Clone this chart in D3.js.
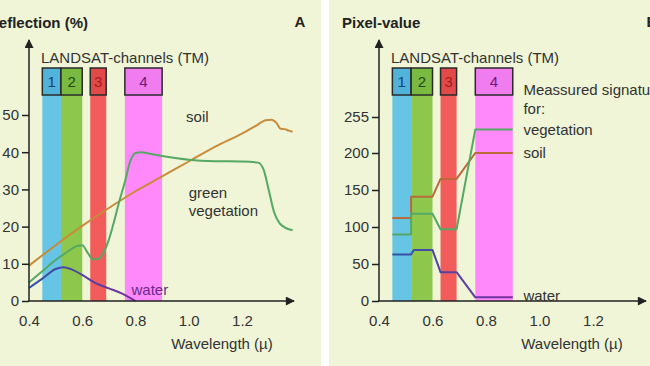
<!DOCTYPE html>
<html>
<head>
<meta charset="utf-8">
<script src="https://cdn.jsdelivr.net/npm/d3@7"></script>
<style>
  html, body { margin: 0; padding: 0; background: #ffffff; }
  svg { display: block; font-family: "Liberation Sans", Arial, sans-serif; }
</style>
</head>
<body>
<div id="chart"></div>
<script>
// Landsat TM channels (wavelength in micrometres)
const channelNames = ['1', '2', '3', '4'];
const channelStart = [0.45, 0.52, 0.63, 0.76];
const channelEnd = [0.52, 0.60, 0.69, 0.90];

// Axis ticks
const wavelengthTicks = [0.4, 0.6, 0.8, 1.0, 1.2];
const reflectionTicks = [0, 10, 20, 30, 40, 50];
const pixelTicks = [0, 50, 100, 150, 200, 255];

// Panel A: spectral reflection curves (%)
const soilWavelength = [0.4, 0.5, 0.6, 0.7, 0.8, 0.9, 1.0, 1.1, 1.2, 1.25, 1.29, 1.31, 1.33, 1.345, 1.36, 1.375, 1.39];
const soilReflection = [9.5, 15, 20.2, 25, 29.5, 33.5, 37.5, 41.5, 45, 47, 48.6, 48.7, 47.8, 46.3, 46.2, 45.8, 45.5];

const vegWavelength = [0.4, 0.45, 0.5, 0.55, 0.58, 0.6, 0.62, 0.64, 0.66, 0.68, 0.70, 0.72, 0.74, 0.76, 0.78, 0.80, 0.82, 0.86, 0.9, 1.0, 1.1, 1.2, 1.26, 1.28, 1.30, 1.32, 1.34, 1.36, 1.39];
const vegReflection = [5, 8, 11, 13.5, 14.8, 15, 13, 11.2, 11.3, 13, 16.5, 21.5, 27, 32, 37.5, 39.8, 40, 39.5, 39, 38, 37.6, 37.5, 37.2, 35.5, 30, 24, 21, 19.8, 19];

const waterWavelength = [0.4, 0.45, 0.5, 0.53, 0.56, 0.6, 0.65, 0.7, 0.75, 0.8];
const waterReflection = [3.5, 6, 8.6, 9.1, 8.5, 7, 4.8, 3.4, 2, 0];

// Panel B: measured pixel values per channel
const vegPixWavelength = [0.45, 0.52, 0.52, 0.60, 0.63, 0.69, 0.76, 0.90];
const vegPixValue = [90, 90, 118, 118, 97, 97, 236, 236];
const soilPixWavelength = [0.45, 0.52, 0.52, 0.60, 0.63, 0.69, 0.76, 0.90];
const soilPixValue = [112, 112, 141, 141, 165, 165, 200, 200];
const waterPixWavelength = [0.45, 0.52, 0.53, 0.60, 0.63, 0.69, 0.76, 0.90];
const waterPixValue = [63, 63, 69, 69, 39, 39, 5, 5];

// Colours
const bgColor = '#eff5d6';
const textColor = '#333333';
const channelColors = ['#66c4e4', '#8dc84c', '#f25c5a', '#ff88fb'];
const boxColors = ['#52b3da', '#7bba40', '#e24a4a', '#f07cf0'];
const numberColors = ['#1d3d6e', '#1f4a18', '#a41c1c', '#6a1b78'];

const width = 650;
const height = 366;
const fontSize = 15;

const svg = d3.select('#chart')
  .append('svg')
  .attr('width', width)
  .attr('height', height);

const defs = svg.append('defs');
const arrowMarker = defs.append('marker')
  .attr('id', 'arrow')
  .attr('viewBox', '0 0 10 10')
  .attr('refX', 9)
  .attr('refY', 5)
  .attr('markerUnits', 'userSpaceOnUse')
  .attr('markerWidth', 11)
  .attr('markerHeight', 9)
  .attr('orient', 'auto');
arrowMarker.append('path').attr('d', 'M0,0 L10,5 L0,10 Z').attr('fill', '#222');

// Panel backgrounds
svg.append('rect').attr('x', 0).attr('y', 0).attr('width', 321).attr('height', height).attr('fill', bgColor);
svg.append('rect').attr('x', 329).attr('y', 0).attr('width', width - 329).attr('height', height).attr('fill', bgColor);

function drawPanel(p) {
  const g = svg.append('g');
  const x = p.x;
  const y = p.y;
  const y0 = y.range()[0];

  // Channel bands
  channelNames.forEach((name, i) => {
    g.append('rect')
      .attr('x', x(channelStart[i]))
      .attr('y', 95)
      .attr('width', x(channelEnd[i]) - x(channelStart[i]))
      .attr('height', y0 - 95)
      .attr('fill', channelColors[i]);
  });

  // Channel boxes
  channelNames.forEach((name, i) => {
    g.append('rect')
      .attr('x', x(channelStart[i]))
      .attr('y', 68)
      .attr('width', x(channelEnd[i]) - x(channelStart[i]))
      .attr('height', 27)
      .attr('fill', boxColors[i])
      .attr('stroke', '#2a2a2a')
      .attr('stroke-width', 1.5);
    g.append('text')
      .attr('x', (x(channelStart[i]) + x(channelEnd[i])) / 2)
      .attr('y', 87)
      .attr('text-anchor', 'middle')
      .attr('font-size', fontSize)
      .attr('fill', numberColors[i])
      .text(name);
  });

  g.append('text')
    .attr('x', x(0.4) + 12)
    .attr('y', 63)
    .attr('font-size', fontSize)
    .attr('fill', textColor)
    .text('LANDSAT-channels (TM)');

  // Series
  p.series.forEach(s => {
    const pts = s.xs.map((v, i) => [v, s.ys[i]]);
    const line = d3.line()
      .x(d => x(d[0]))
      .y(d => y(d[1]))
      .curve(p.smooth ? d3.curveMonotoneX : d3.curveLinear);
    g.append('path')
      .datum(pts)
      .attr('fill', 'none')
      .attr('stroke', s.color)
      .attr('stroke-width', 2)
      .attr('stroke-linejoin', 'round')
      .attr('d', line);
  });

  // Y axis
  const yAxis = d3.axisLeft(y).tickValues(p.yTicks).tickSize(7).tickPadding(3);
  const ya = g.append('g')
    .attr('transform', `translate(${x(0.4)},0)`)
    .call(yAxis);
  ya.select('.domain').remove();
  ya.selectAll('line').attr('stroke', '#222').attr('stroke-width', 1.5);
  ya.selectAll('text').attr('font-size', fontSize).attr('fill', textColor).attr('font-family', null);

  // X axis
  const xAxis = d3.axisBottom(x).tickValues(wavelengthTicks).tickSize(0).tickPadding(14).tickFormat(d3.format('.1f'));
  const xa = g.append('g')
    .attr('transform', `translate(0,${y0})`)
    .call(xAxis);
  xa.select('.domain').remove();
  xa.selectAll('text').attr('font-size', fontSize).attr('fill', textColor).attr('font-family', null);

  g.append('line')
    .attr('x1', x(0.4)).attr('y1', y0)
    .attr('x2', x(0.4)).attr('y2', 40)
    .attr('stroke', '#222').attr('stroke-width', 1.5)
    .attr('marker-end', 'url(#arrow)');
  g.append('line')
    .attr('x1', x(0.4) - 1).attr('y1', y0)
    .attr('x2', p.xEnd).attr('y2', y0)
    .attr('stroke', '#222').attr('stroke-width', 1.5)
    .attr('marker-end', 'url(#arrow)');

  g.append('text')
    .attr('x', p.xLabelX)
    .attr('y', 349)
    .attr('text-anchor', 'middle')
    .attr('font-size', fontSize)
    .attr('fill', textColor)
    .text('Wavelength (\u00b5)');

  g.append('text')
    .attr('x', p.titleX)
    .attr('y', 28)
    .attr('text-anchor', p.titleAnchor)
    .attr('font-size', fontSize)
    .attr('font-weight', 'bold')
    .attr('fill', '#222')
    .text(p.title);

  g.append('text')
    .attr('x', p.letterX)
    .attr('y', 27)
    .attr('text-anchor', 'middle')
    .attr('font-size', 15)
    .attr('font-weight', 'bold')
    .attr('fill', '#222')
    .text(p.letter);

  p.labels.forEach(l => {
    g.append('text')
      .attr('x', x(l.at[0]))
      .attr('y', y(l.at[1]))
      .attr('dy', '0.35em')
      .attr('font-size', fontSize)
      .attr('fill', l.color || textColor)
      .text(l.text);
  });

  return g;
}

// Gradient for the water lines (blue to purple)
function waterGradient(id, x1, x2) {
  const grad = defs.append('linearGradient')
    .attr('id', id)
    .attr('gradientUnits', 'userSpaceOnUse')
    .attr('x1', x1).attr('x2', x2).attr('y1', 0).attr('y2', 0);
  grad.append('stop').attr('offset', 0).attr('stop-color', '#3253a8');
  grad.append('stop').attr('offset', 1).attr('stop-color', '#7a2f9c');
}

// Panel A
const xA = d3.scaleLinear().domain([0.4, 1.2]).range([29, 242]);
const yA = d3.scaleLinear().domain([0, 50]).range([301, 115]);
waterGradient('waterA', xA(0.4), xA(0.8));

drawPanel({
  x: xA,
  y: yA,
  yTicks: reflectionTicks,
  smooth: true,
  xEnd: 294,
  xLabelX: 222,
  title: 'Reflection (%)',
  titleX: 88,
  titleAnchor: 'end',
  letter: 'A',
  letterX: 300,
  series: [
    { xs: soilWavelength, ys: soilReflection, color: '#c98b3a' },
    { xs: vegWavelength, ys: vegReflection, color: '#55a865' },
    { xs: waterWavelength, ys: waterReflection, color: 'url(#waterA)' }
  ],
  labels: [
    { text: 'soil', at: [0.99, 49.6] },
    { text: 'green', at: [1.0, 29] },
    { text: 'vegetation', at: [1.0, 24.3] },
    { text: 'water', at: [0.785, 3.1], color: '#6a2a88' }
  ]
});

// Panel B (pixel values, 255 is drawn one step above 200)
const xB = d3.scaleLinear().domain([0.4, 1.2]).range([379, 593]);
const yB = d3.scaleLinear().domain([0, 200, 255]).range([301, 153, 117]);
waterGradient('waterB', xB(0.45), xB(0.9));

drawPanel({
  x: xB,
  y: yB,
  yTicks: pixelTicks,
  smooth: false,
  xEnd: 646,
  xLabelX: 572,
  title: 'Pixel-value',
  titleX: 342,
  titleAnchor: 'start',
  letter: 'B',
  letterX: 652,
  series: [
    { xs: soilPixWavelength, ys: soilPixValue, color: '#bb6a3a' },
    { xs: vegPixWavelength, ys: vegPixValue, color: '#55a865' },
    { xs: waterPixWavelength, ys: waterPixValue, color: 'url(#waterB)' }
  ],
  labels: [
    { text: 'Meassured signature', at: [0.94, 296] },
    { text: 'for:', at: [0.94, 267] },
    { text: 'vegetation', at: [0.94, 236] },
    { text: 'soil', at: [0.94, 200] },
    { text: 'water', at: [0.94, 7] }
  ]
});
</script>
</body>
</html>
